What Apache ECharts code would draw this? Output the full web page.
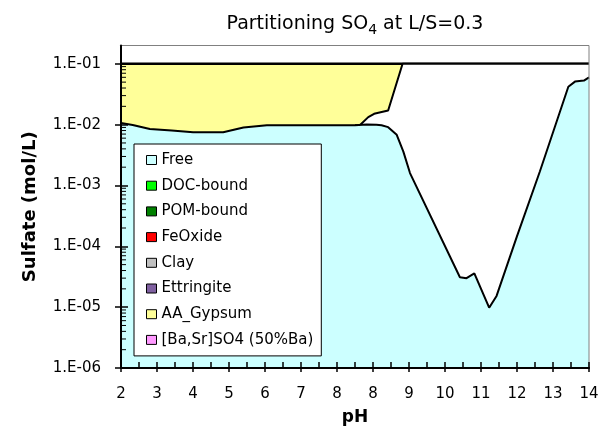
<!DOCTYPE html>
<html><head><meta charset="utf-8">
<script src="https://cdn.jsdelivr.net/npm/echarts@6/dist/echarts.min.js"></script>
<style>html,body{margin:0;padding:0;background:#fff}#c{width:607px;height:430px}</style>
</head><body><div id="c"></div>
<script>
// ---- data ----
const xTickLabels = ['2','3','4','5','6','7','8','8','9','10','11','12','13','14'];
const yTickValues = [1e-6, 1e-5, 1e-4, 1e-3, 1e-2, 1e-1];
const yTickLabels = ['1.E-06','1.E-05','1.E-04','1.E-03','1.E-02','1.E-01'];
const legendNames = ['Free','DOC-bound','POM-bound','FeOxide','Clay','Ettringite','AA_Gypsum','[Ba,Sr]SO4 (50%Ba)'];
const legendColors = ['#ccffff','#00ff00','#008000','#ff0000','#c0c0c0','#7f60a0','#ffff99','#ff99ff'];
// free sulfate (top of cyan band)
const freePH  = [2.0, 2.3, 2.74, 3.3, 3.85, 4.62, 5.14, 5.74, 8.0, 8.3, 8.55, 8.68, 8.85, 9.07, 9.24, 9.41, 10.69, 10.86, 11.06, 11.44, 11.63, 12.15, 12.74, 13.47, 13.64, 13.87, 14.0];
const freeSO4 = [0.0106, 0.0099, 0.0085, 0.0080, 0.0075, 0.0075, 0.0090, 0.0098, 0.0098, 0.0101, 0.0100, 0.0098, 0.0091, 0.0068, 0.0036, 0.0016, 3.1e-5, 3.0e-5, 3.6e-5, 9.8e-6, 1.53e-5, 1.44e-4, 1.7e-3, 0.042, 0.051, 0.053, 0.060];
// cumulative top of the unlabelled (white) band
const otherPH  = [8.0, 8.13, 8.34, 8.49, 8.85, 9.22, 14.0];
const otherSO4 = [0.0098, 0.0099, 0.0133, 0.0151, 0.0171, 0.1, 0.1];
// cumulative total (top of AA_Gypsum band)
const totalPH  = [2.0, 14.0];
const totalSO4 = [0.1, 0.1];

// ---- chart ----
const FONT = 'DejaVu Sans';
const zip = (a, b) => a.map((v, i) => [v, b[i]]);
const nX = xTickLabels.length - 1;
const xMajor = xTickLabels.map((_, i) => 2 + i * 12 / nX);
const yMinor = [];
for (let e = -6; e <= -2; e++) for (let k = 2; k <= 9; k++) yMinor.push(+(k * Math.pow(10, e)).toPrecision(3));

const W = 607, H = 430;
const PL = 121, PR = 18, PT = 45.5, PB = 62;
const YMIN = 1e-6, YMAX = 0.2;
const plotH = H - PT - PB;
const topDecadeY = PT + (Math.log10(YMAX) - Math.log10(0.1)) / (Math.log10(YMAX) - Math.log10(YMIN)) * plotH;

const chart = echarts.init(document.getElementById('c'), null, {renderer: 'canvas'});
const tickOnly = (extra) => Object.assign({
  splitLine: {show: false}, axisLabel: {show: false}, axisLine: {show: false, onZero: false}, z: 10
}, extra);
const emptySeries = legendNames.filter(n => n !== 'Free' && n !== 'AA_Gypsum').map(n => ({
  name: n, type: 'line', data: [], symbol: 'none',
  itemStyle: {color: legendColors[legendNames.indexOf(n)]},
  lineStyle: {color: legendColors[legendNames.indexOf(n)]}
}));

chart.setOption({
  animation: false,
  backgroundColor: '#fff',
  textStyle: {fontFamily: FONT},
  grid: [
    {left: PL, right: PR, top: PT, bottom: PB, show: true, borderColor: '#808080', borderWidth: 1, z: 10, outerBoundsMode: 'none', containLabel: false},
    {left: PL, right: PR, top: topDecadeY, bottom: PB, show: false, outerBoundsMode: 'none', containLabel: false}
  ],
  graphic: [{
    type: 'text', x: 355, y: 24, z: 100,
    style: {
      text: '{a|Partitioning SO}{s|4}{a| at L/S=0.3}',
      align: 'center', verticalAlign: 'middle',
      rich: {
        a: {fontSize: 19, fontFamily: FONT, fill: '#000', lineHeight: 26},
        s: {fontSize: 14, fontFamily: FONT, fill: '#000', lineHeight: 14, verticalAlign: 'bottom'}
      }
    }
  }],
  xAxis: [{
    gridIndex: 0, type: 'value', min: 2, max: 14, position: 'bottom', z: 11,
    axisLine: {show: true, onZero: false, lineStyle: {color: '#000', width: 2}},
    axisTick: {show: false},
    axisLabel: {customValues: xMajor, formatter: v => xTickLabels[Math.round((v - 2) * nX / 12)], margin: 19, fontSize: 15, color: '#000', fontFamily: FONT},
    splitLine: {show: false},
    name: 'pH', nameLocation: 'middle', nameGap: 41,
    nameTextStyle: {fontSize: 17, fontWeight: 'bold', color: '#000', fontFamily: FONT}
  }, tickOnly({
    gridIndex: 0, type: 'value', min: 0, max: nX, interval: 1, position: 'bottom',
    axisTick: {show: true, inside: false, length: 4, lineStyle: {color: '#000', width: 1.5}}
  }), tickOnly({
    gridIndex: 0, type: 'value', min: 0, max: nX, interval: 0.5, position: 'bottom',
    axisTick: {show: true, inside: true, length: 6, lineStyle: {color: '#000', width: 1.5}}
  }), {
    gridIndex: 1, type: 'value', min: 2, max: 14, show: false
  }],
  yAxis: [{
    gridIndex: 0, type: 'log', logBase: 10, min: YMIN, max: YMAX, position: 'left', z: 11,
    axisLine: {show: true, onZero: false, lineStyle: {color: '#000', width: 2}},
    axisTick: {show: false},
    axisLabel: {customValues: yTickValues, formatter: v => {
      const i = yTickValues.findIndex(t => Math.abs(Math.log10(t) - Math.log10(v)) < 0.01);
      return i >= 0 ? yTickLabels[i] : '';
    }, margin: 20, fontSize: 15, color: '#000', fontFamily: FONT},
    splitLine: {show: false},
    name: 'Sulfate (mol/L)', nameLocation: 'middle', nameGap: 82,
    nameTextStyle: {fontSize: 18, fontWeight: 'bold', color: '#000', fontFamily: FONT}
  }, tickOnly({
    gridIndex: 1, type: 'log', logBase: 10, min: YMIN, max: 0.1, position: 'left',
    axisTick: {show: true, inside: false, length: 6, lineStyle: {color: '#000', width: 1.5}}
  }), tickOnly({
    gridIndex: 1, type: 'log', logBase: 10, min: YMIN, max: 0.1, position: 'left',
    axisTick: {show: true, inside: true, length: 7, lineStyle: {color: '#000', width: 1.5}}
  })],
  legend: {
    data: legendNames.map((n, i) => ({name: n, itemStyle: {color: legendColors[i], borderColor: '#000', borderWidth: 1}})),
    orient: 'vertical', left: 134, top: 144, padding: [8, 8, 8, 12],
    itemWidth: 10, itemHeight: 9, itemGap: 9.7, icon: 'rect',
    backgroundColor: '#fff', borderColor: '#000', borderWidth: 1, borderRadius: 0,
    selectedMode: false, z: 20,
    textStyle: {fontFamily: FONT, fontSize: 15, color: '#000', lineHeight: 16}
  },
  series: [{
    name: 'AA_Gypsum', type: 'line', data: zip(totalPH, totalSO4), symbol: 'none',
    lineStyle: {color: '#000', width: 2.5}, itemStyle: {color: '#ffff99'},
    areaStyle: {color: '#ffff99', opacity: 1, origin: 'start'}, z: 2
  }, {
    name: 'Other', type: 'line', data: zip(otherPH, otherSO4), symbol: 'none',
    lineStyle: {color: '#000', width: 2}, itemStyle: {color: '#ffffff'},
    areaStyle: {color: '#ffffff', opacity: 1, origin: 'start'}, z: 3
  }, {
    name: 'Free', type: 'line', data: zip(freePH, freeSO4), symbol: 'none',
    lineStyle: {color: '#000', width: 2}, itemStyle: {color: '#ccffff'},
    areaStyle: {color: '#ccffff', opacity: 1, origin: 'start'}, z: 4
  }, {
    name: 'minorTicks', type: 'custom', xAxisIndex: 0, yAxisIndex: 0, silent: true, z: 12, clip: false,
    data: yMinor.map(v => [2, v]),
    renderItem: (params, api) => {
      const p = api.coord([api.value(0), api.value(1)]);
      return {type: 'line', shape: {x1: p[0], y1: p[1], x2: p[0] + 5, y2: p[1]}, style: {stroke: '#000', lineWidth: 1}};
    }
  }].concat(emptySeries)
});
</script>
</body></html>
